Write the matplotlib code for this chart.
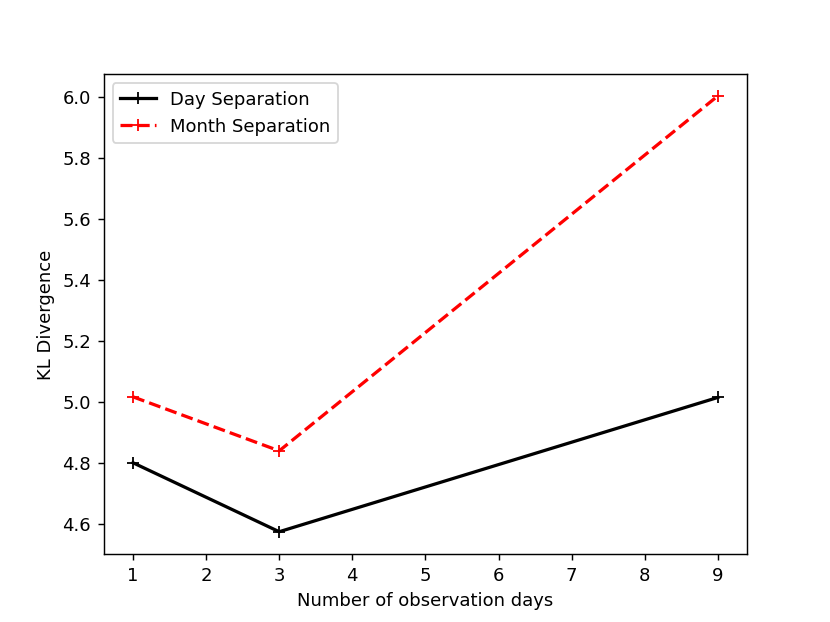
import matplotlib
matplotlib.use("Agg")
import matplotlib.pyplot as plt

days = [1, 3, 9]
day_sep = [4.800, 4.574, 5.014]
month_sep = [5.016, 4.839, 6.002]

fig, ax = plt.subplots(figsize=(6.4, 4.8), dpi=129.7)
ax.plot(days, day_sep, color='black', linestyle='-', marker='+', markersize=7,
        linewidth=1.8, label='Day Separation')
ax.plot(days, month_sep, color='red', linestyle='--', marker='+', markersize=7,
        linewidth=1.8, label='Month Separation')
ax.set_xlabel('Number of observation days')
ax.set_ylabel('KL Divergence')
ax.set_xticks(range(1, 10))
ax.legend(loc='upper left')
fig.savefig('out.png', dpi=129.7)
